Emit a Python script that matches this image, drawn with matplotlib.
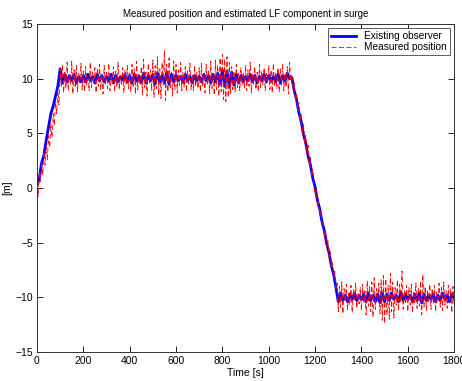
import numpy as np
import matplotlib
matplotlib.use("Agg")
import matplotlib.pyplot as plt

# Measured position (red dashed), sampled every 5 s from 0 to 1800 s
measured = [
    0.3, -0.8, 1.5, 0.6, 2.4, 1.2, 3.3, 2.1, 3.9, 2.6, 4.8, 3.7, 5.9, 4.6, 6.8, 5.7, 7.9, 6.8, 8.9, 7.6,
    10.9, 9.2, 11.3, 8.7, 10.6, 9.1, 11.5, 8.9, 10.4, 9.5, 11.6, 8.6, 10.8, 9.3, 11.2, 8.8, 10.5, 9.6, 11.4, 9.0,
    10.7, 8.8, 11.1, 9.4, 10.3, 8.9, 11.5, 9.2, 10.6, 9.7, 11.0, 8.7, 10.9, 9.3, 11.3, 9.0, 10.4, 8.6, 11.2, 9.5,
    10.6, 9.1, 11.4, 8.9, 10.2, 9.6, 11.1, 8.8, 10.7, 9.2, 11.5, 9.0, 10.3, 9.4, 11.0, 8.7, 10.8, 9.5, 11.2, 9.1,
    10.5, 8.8, 11.3, 9.3, 10.9, 8.6, 11.6, 9.0, 10.4, 9.5, 11.1, 8.5, 11.8, 9.2, 10.6, 8.4, 11.4, 9.6, 10.8, 8.9,
    11.7, 8.3, 11.2, 9.1, 12.0, 8.5, 10.9, 8.2, 11.5, 9.4, 12.6, 8.0, 11.3, 8.8, 11.9, 9.2, 10.6, 8.4, 11.6, 9.0,
    11.3, 8.7, 10.8, 9.4, 11.5, 8.9, 10.6, 9.2, 11.1, 8.8, 10.7, 9.5, 11.4, 9.0, 10.3, 8.9, 11.2, 9.3, 10.6, 9.1,
    11.0, 8.8, 11.4, 9.2, 10.5, 8.7, 11.3, 9.4, 10.8, 8.6, 11.6, 9.1, 10.4, 8.5, 11.7, 9.0, 11.2, 8.4, 11.9, 8.8,
    12.2, 8.1, 11.8, 7.9, 12.0, 8.3, 11.5, 8.6, 11.1, 9.0, 10.7, 8.8, 11.3, 9.2, 10.5, 8.9, 11.0, 9.4, 10.6, 9.1,
    11.2, 8.9, 10.8, 9.3, 11.5, 8.7, 10.4, 9.5, 11.1, 9.0, 10.6, 8.8, 11.3, 9.2, 10.7, 9.4, 11.0, 8.9, 10.5, 9.6,
    11.2, 9.0, 10.8, 8.7, 11.4, 9.3, 10.6, 9.1, 11.0, 8.8, 10.9, 9.4, 11.3, 8.9, 10.5, 9.2, 11.1, 8.6, 11.5, 9.8,
    10.4, 9.1, 9.6, 8.0, 8.7, 7.0, 7.8, 6.1, 6.8, 5.0, 5.9, 4.1, 4.8, 3.1, 3.9, 2.0, 2.8, 1.1, 1.7, 0.1,
    -0.6, -0.2, -1.6, -1.2, -2.5, -2.1, -3.4, -3.1, -4.5, -3.9, -5.4, -4.8, -6.3, -5.8, -7.2, -6.7, -8.3, -7.6, -9.2, -8.7,
    -11.3, -9.0, -10.9, -8.6, -11.5, -9.2, -10.4, -8.8, -11.1, -9.5, -10.7, -8.9, -11.4, -9.3, -10.2, -8.7, -11.0, -9.6, -10.6, -9.1,
    -11.2, -8.8, -10.5, -9.4, -11.6, -8.5, -10.8, -9.0, -11.3, -8.6, -11.8, -8.2, -11.1, -9.2, -10.4, -8.7, -11.5, -8.4, -12.1, -8.0,
    -12.4, -8.3, -11.6, -8.9, -12.0, -7.8, -11.3, -8.6, -11.9, -9.1, -10.7, -8.4, -11.2, -8.8, -10.5, -7.6, -11.1, -9.3, -10.6, -8.9,
    -11.3, -9.1, -10.7, -8.8, -11.4, -9.4, -10.5, -8.7, -11.0, -9.2, -10.8, -8.5, -11.6, -7.9, -10.9, -9.0, -11.2, -9.3, -10.4, -8.8,
    -11.1, -9.2, -10.6, -8.9, -11.3, -9.5, -10.4, -8.7, -10.9, -9.1, -11.2, -8.6, -10.7, -9.4, -11.0, -8.9, -10.5, -9.2, -11.4, -9.0,
    -10.8,
]

# Existing observer estimate (blue), sampled every 10 s from 0 to 1800 s
observer = [
    0.2, 0.9, 2.3, 3.0, 4.4, 5.6, 6.8, 7.5, 8.4, 9.3,
    10.9, 9.6, 10.4, 9.7, 10.3, 9.8, 10.4, 9.6, 10.2, 9.7,
    10.3, 9.7, 10.4, 9.8, 10.2, 9.6, 10.4, 9.8, 10.3, 9.7,
    10.2, 9.8, 10.4, 9.6, 10.3, 9.7, 10.2, 9.9, 10.4, 9.7,
    10.3, 9.6, 10.4, 9.8, 10.2, 9.7, 10.5, 9.6, 10.3, 9.8,
    10.4, 9.5, 10.5, 9.7, 10.3, 9.6, 10.6, 9.5, 10.4, 9.7,
    10.3, 9.8, 10.2, 9.7, 10.4, 9.8, 10.2, 9.6, 10.3, 9.8,
    10.2, 9.7, 10.4, 9.8, 10.3, 9.6, 10.4, 9.7, 10.5, 9.5,
    10.8, 9.3, 10.7, 9.2, 10.6, 9.4, 10.4, 9.6, 10.3, 9.7,
    10.2, 9.8, 10.4, 9.7, 10.3, 9.6, 10.2, 9.8, 10.4, 9.7,
    10.3, 9.8, 10.2, 9.7, 10.4, 9.6, 10.3, 9.8, 10.5, 10.0,
    10.1, 8.9, 8.1, 6.9, 6.1, 4.9, 4.1, 2.9, 2.1, 0.9,
    0.1, -1.1, -1.9, -3.1, -3.9, -5.1, -5.9, -7.1, -7.9, -9.1,
    -10.4, -9.6, -10.3, -9.8, -10.4, -9.7, -10.2, -9.6, -10.3, -9.8,
    -10.2, -9.7, -10.4, -9.6, -10.3, -9.8, -10.4, -9.7, -10.5, -9.6,
    -10.4, -9.7, -10.3, -9.6, -10.2, -9.8, -10.4, -9.5, -10.3, -9.7,
    -10.2, -9.8, -10.4, -9.7, -10.3, -9.6, -10.5, -9.7, -10.3, -9.8,
    -10.2, -9.7, -10.4, -9.8, -10.3, -9.6, -10.2, -9.8, -10.4, -9.7,
    -10.1,
]

t_end = 1800
x_ticks = [0, 200, 400, 600, 800, 1000, 1200, 1400, 1600, 1800]
y_ticks = [-15, -10, -5, 0, 5, 10, 15]

t_meas = np.linspace(0, t_end, len(measured))
t_obs = np.linspace(0, t_end, len(observer))

plt.rcParams['font.family'] = ['Liberation Sans', 'DejaVu Sans']
fig = plt.figure(figsize=(4.62, 3.81), dpi=100)
ax = fig.add_axes([0.080, 0.076, 0.903, 0.861])

ax.plot(t_obs, observer, color=(0, 0, 1), lw=2.0, label='Existing observer')
ax.plot(t_meas, measured, color=(1, 0, 0), lw=0.6, ls=(0, (6, 3)), label='Measured position')

ax.set_xlim(0, t_end)
ax.set_ylim(-15, 15)
ax.set_xticks(x_ticks)
ax.set_yticks(y_ticks)
ax.tick_params(direction='in', top=True, right=True, labelsize=7.5, length=4, width=0.6, pad=3)
for s in ax.spines.values():
    s.set_linewidth(0.7)
    s.set_color('#333333')

ax.set_title('Measured position and estimated LF component in surge', fontsize=7, pad=5)
ax.set_xlabel('Time [s]', fontsize=7.5, labelpad=1)
ax.set_ylabel('[m]', fontsize=7.5, labelpad=2)

leg = ax.legend(loc='upper right', fontsize=7.3, fancybox=False, framealpha=1,
                edgecolor='#444444', borderpad=0.3, handlelength=2.5,
                labelspacing=0.1, borderaxespad=0.4)
leg.get_frame().set_linewidth(0.6)

fig.savefig('out.png', dpi=100)
